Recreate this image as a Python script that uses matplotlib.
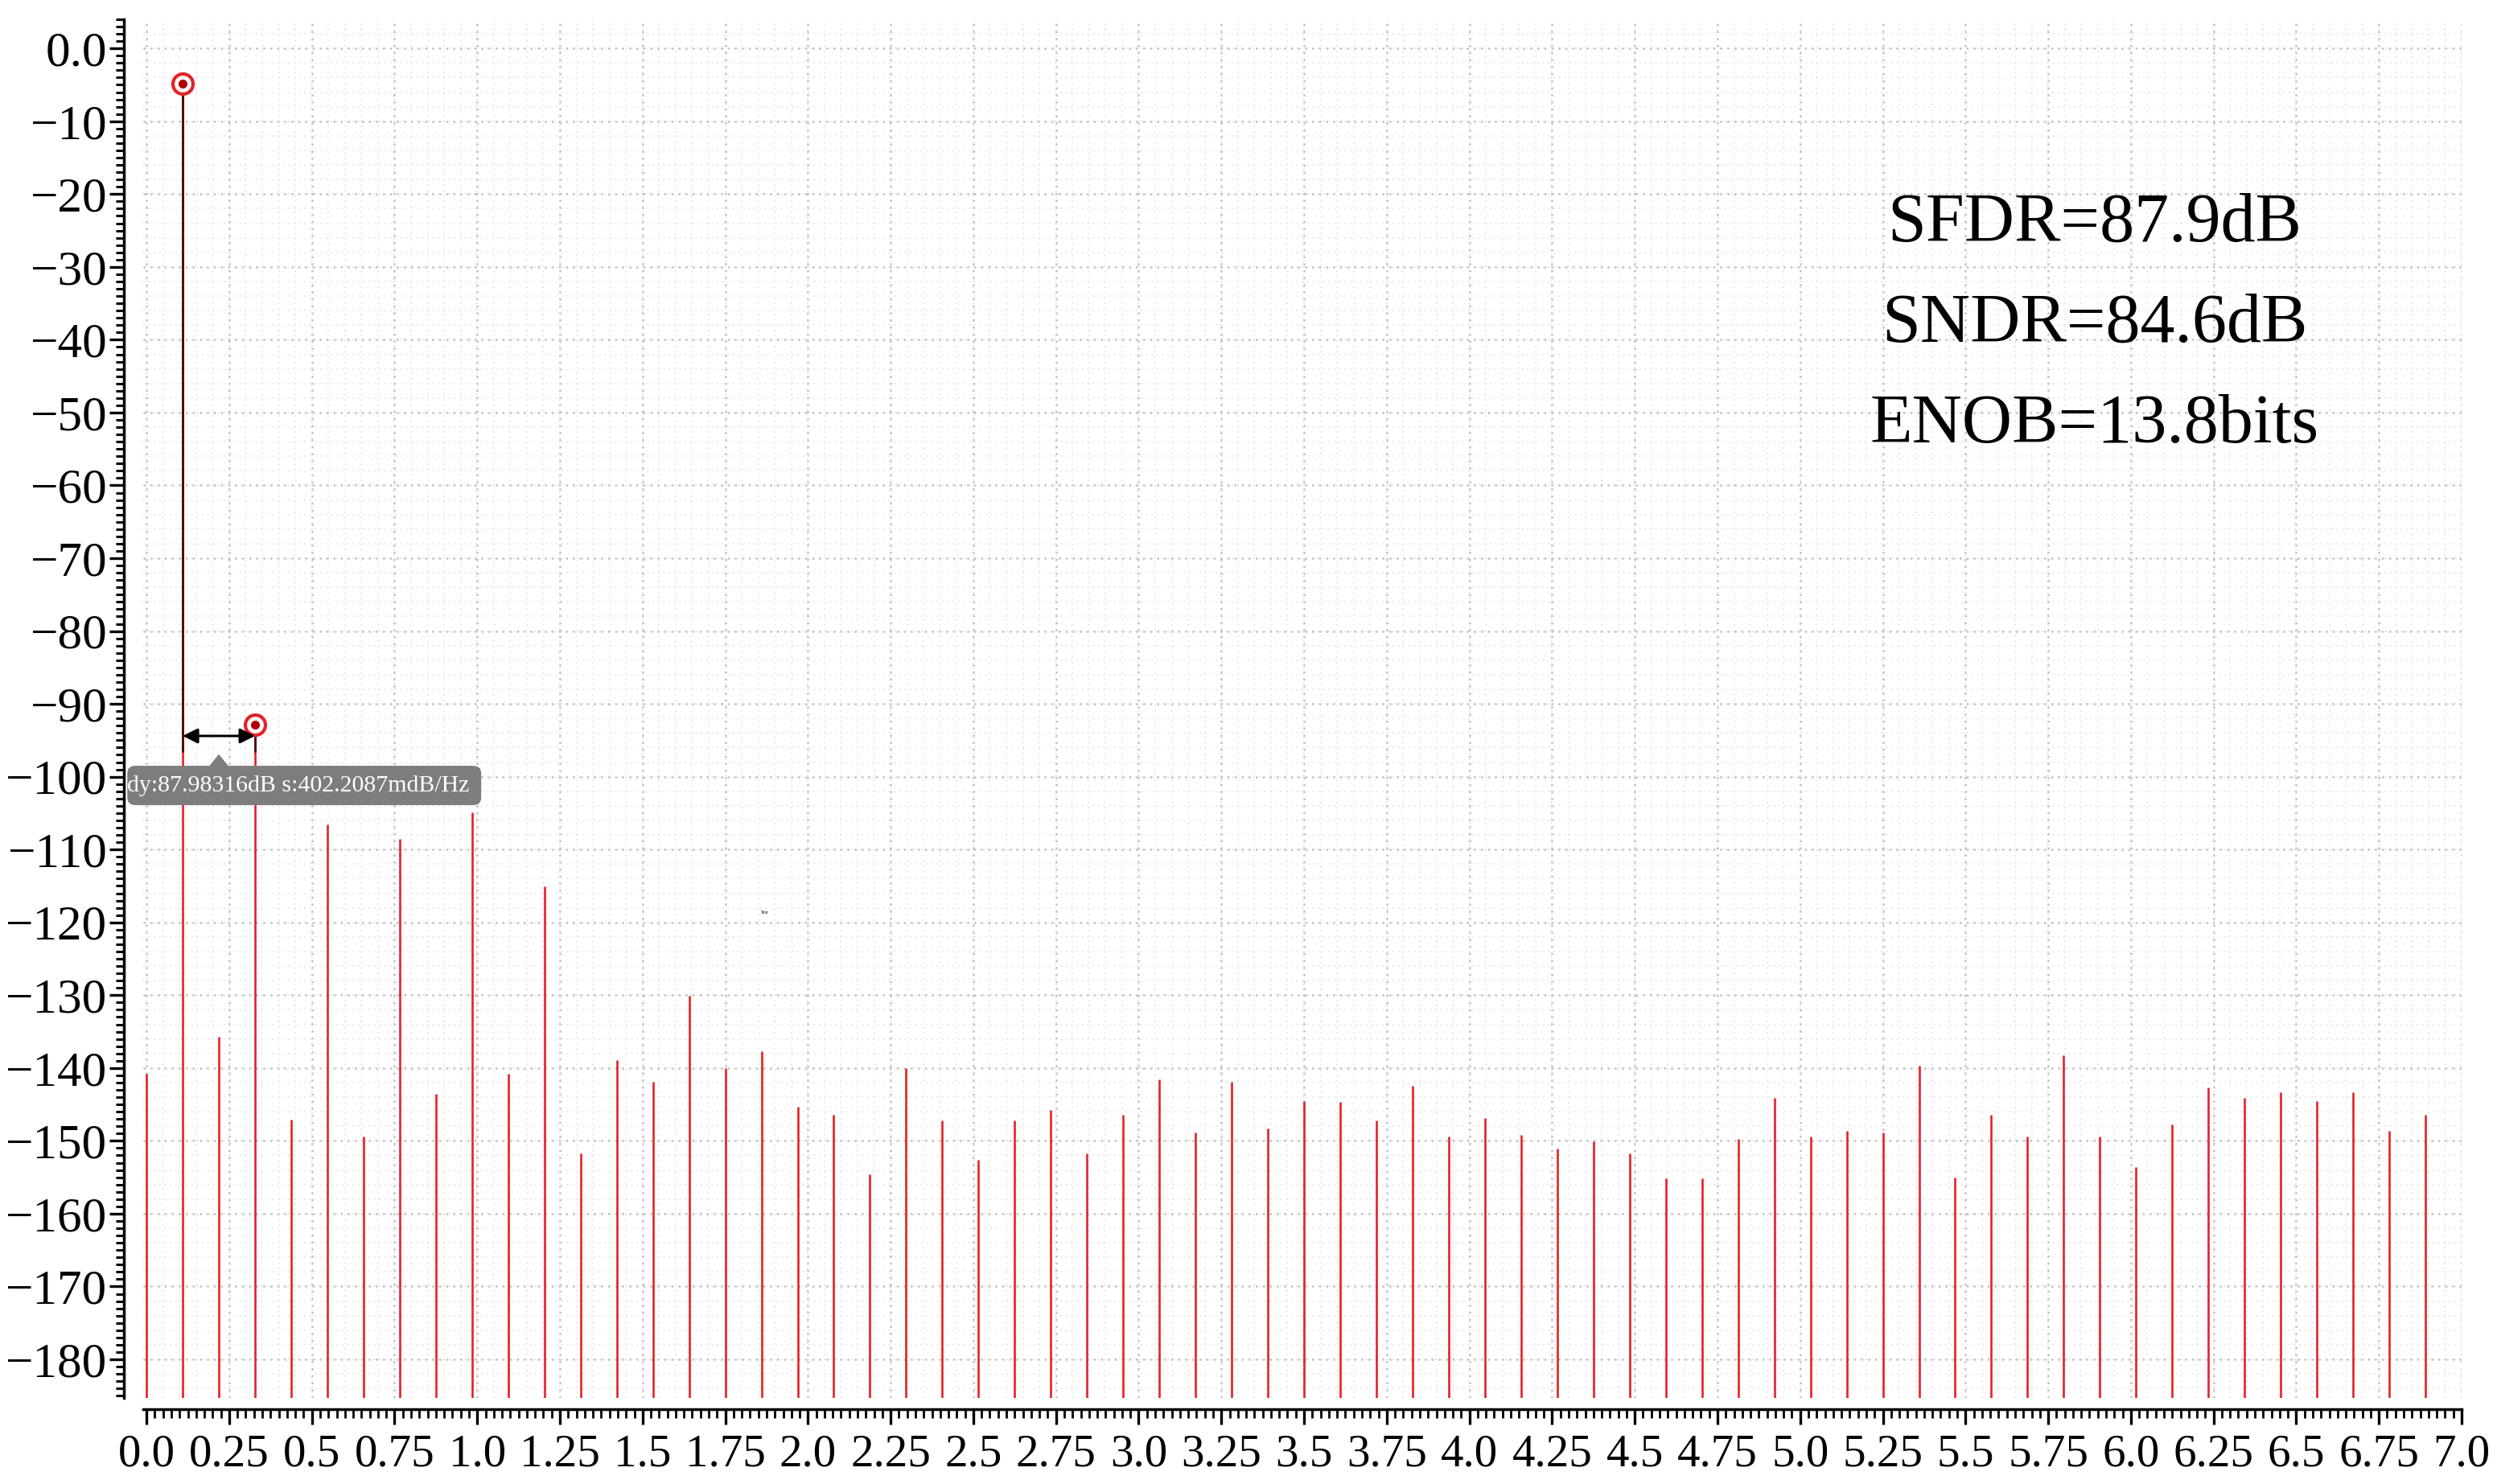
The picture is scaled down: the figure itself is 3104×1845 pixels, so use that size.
import numpy as np
import matplotlib
matplotlib.use('Agg')
import matplotlib.pyplot as plt
from matplotlib.ticker import MultipleLocator, FuncFormatter
from matplotlib.patches import FancyBboxPatch, Polygon

plt.rcParams['font.family'] = ['Liberation Serif', 'DejaVu Serif']

# frecuencia de cada bin de la FFT (eje x)
freqs = [0.0, 0.1094, 0.2188, 0.3281, 0.4375, 0.5469, 0.6563, 0.7656,
         0.875, 0.9844, 1.0938, 1.2031, 1.3125, 1.4219, 1.5313, 1.6406,
         1.75, 1.8594, 1.9688, 2.0781, 2.1875, 2.2969, 2.4063, 2.5156,
         2.625, 2.7344, 2.8438, 2.9531, 3.0625, 3.1719, 3.2813, 3.3906,
         3.5, 3.6094, 3.7188, 3.8281, 3.9375, 4.0469, 4.1563, 4.2656,
         4.375, 4.4844, 4.5938, 4.7031, 4.8125, 4.9219, 5.0313, 5.1406,
         5.25, 5.3594, 5.4688, 5.5781, 5.6875, 5.7969, 5.9063, 6.0156,
         6.125, 6.2344, 6.3438, 6.4531, 6.5625, 6.6719, 6.7813, 6.8906]

# potencia en dB de cada bin
power_db = [-140.8, -4.85, -135.7, -92.83, -147.1, -106.5, -149.4, -108.5,
            -143.5, -104.9, -140.8, -115.1, -151.7, -138.9, -141.9, -130.1,
            -140.0, -137.7, -145.3, -146.4, -154.6, -140.0, -147.2, -152.6,
            -147.2, -145.8, -151.7, -146.4, -141.6, -148.9, -141.9, -148.3,
            -144.6, -144.7, -147.2, -142.4, -149.4, -146.9, -149.2, -151.1,
            -150.1, -151.7, -155.1, -155.1, -149.7, -144.1, -149.4, -148.6,
            -148.8, -139.7, -155.0, -146.4, -149.4, -138.3, -149.4, -153.6,
            -147.8, -142.7, -144.1, -143.3, -144.6, -143.3, -148.6, -146.4]

# marcadores: fundamental (bin 1) y mayor espuria (bin 3)
marker_bins = [1, 3]

metrics = ['SFDR=87.9dB', 'SNDR=84.6dB', 'ENOB=13.8bits']
delta_label = 'dy:87.98316dB s:402.2087mdB/Hz'

y_floor = -185.3
y_top = 4.0

fig = plt.figure(figsize=(31.04, 18.45), dpi=100)
ax = fig.add_axes([178 / 3104, 1 - 1738 / 1845, 2882 / 3104, (1738 - 24) / 1845])
ax.set_xlim(-0.01, 7.0)
ax.set_ylim(y_floor, y_top)

# rejilla punteada
ax.vlines(np.arange(0, 7.001, 0.05), y_floor, y_top, colors='#e3e3e3',
          linestyles=(0, (1, 3)), lw=1.2, zorder=0)
ax.hlines(np.arange(-184, 4, 2), -0.01, 7.0, colors='#e3e3e3',
          linestyles=(0, (1, 3)), lw=1.2, zorder=0)
ax.grid(which='major', color='#c2c2c2', ls=(0, (1, 2.5)), lw=1.8, zorder=0)

# espectro
ax.vlines(freqs, y_floor, power_db, colors='#e32228', lw=1.9, zorder=2)

# marcadores delta
mx = [freqs[b] for b in marker_bins]
my = [power_db[b] for b in marker_bins]
arrow_y = -94.4
ax.vlines(mx, -96.6, my, colors='#4a0a0a', lw=2.0, zorder=3)
ax.plot(mx, my, 'o', ms=18, mfc='white', mec='#e32228', mew=3.0, zorder=4)
ax.plot(mx, my, 'o', ms=7, color='#b00000', zorder=5)
ax.annotate('', xy=(mx[0], arrow_y), xytext=(mx[1], arrow_y),
            arrowprops=dict(arrowstyle='<|-|>', color='black', lw=2.2,
                            mutation_scale=28, shrinkA=0, shrinkB=0), zorder=5)

# etiqueta gris del delta
box = FancyBboxPatch((-0.058, -103.9), 1.07, 5.4,
                     boxstyle='round,pad=0,rounding_size=0.025',
                     fc='#7d7d7d', ec='none', zorder=6, clip_on=False,
                     mutation_aspect=40)
ax.add_patch(box)
mid = (mx[0] + mx[1]) / 2
tri = Polygon([[mid - 0.03, -98.6], [mid + 0.03, -98.6], [mid, -96.9]],
              closed=True, fc='#7d7d7d', ec='none', zorder=6)
ax.add_patch(tri)
ax.text(-0.058, -101.2, delta_label, color='white', fontsize=21.5,
        ha='left', va='center', zorder=7, clip_on=False)

ax.text(1.87, -118.6, 'Text', fontsize=4, ha='center', va='center')

# metricas
for i, t in enumerate(metrics):
    ax.text(5.89, -24.2 - 13.8 * i, t, fontsize=62, ha='center', va='center')

# ejes
for s in ['top', 'right']:
    ax.spines[s].set_visible(False)
ax.spines['left'].set_position(('outward', 17))
ax.spines['bottom'].set_position(('outward', 10))
ax.spines['left'].set_linewidth(2.5)
ax.spines['bottom'].set_linewidth(2.5)

ax.set_yticks(np.arange(-180, 1, 10))
ax.yaxis.set_minor_locator(MultipleLocator(1))
ax.set_xticks(np.arange(0, 7.01, 0.25))
ax.xaxis.set_minor_locator(MultipleLocator(0.025))


def fmt_y(v, pos):
    if v == 0:
        return '0.0'
    return str(int(round(v))).replace('-', '\u2212')


def fmt_x(v, pos):
    if abs(v - round(v)) < 1e-9:
        return f'{v:.1f}'
    return f'{v:g}'


ax.yaxis.set_major_formatter(FuncFormatter(fmt_y))
ax.xaxis.set_major_formatter(FuncFormatter(fmt_x))
ax.tick_params(axis='y', which='major', length=13, width=2.4, labelsize=44, pad=2)
ax.tick_params(axis='y', which='minor', length=7, width=2.2)
ax.tick_params(axis='x', which='major', length=14, width=2.4, labelsize=41, pad=8)
ax.tick_params(axis='x', which='minor', length=8, width=2.0)

fig.savefig('out.png', dpi=100)
